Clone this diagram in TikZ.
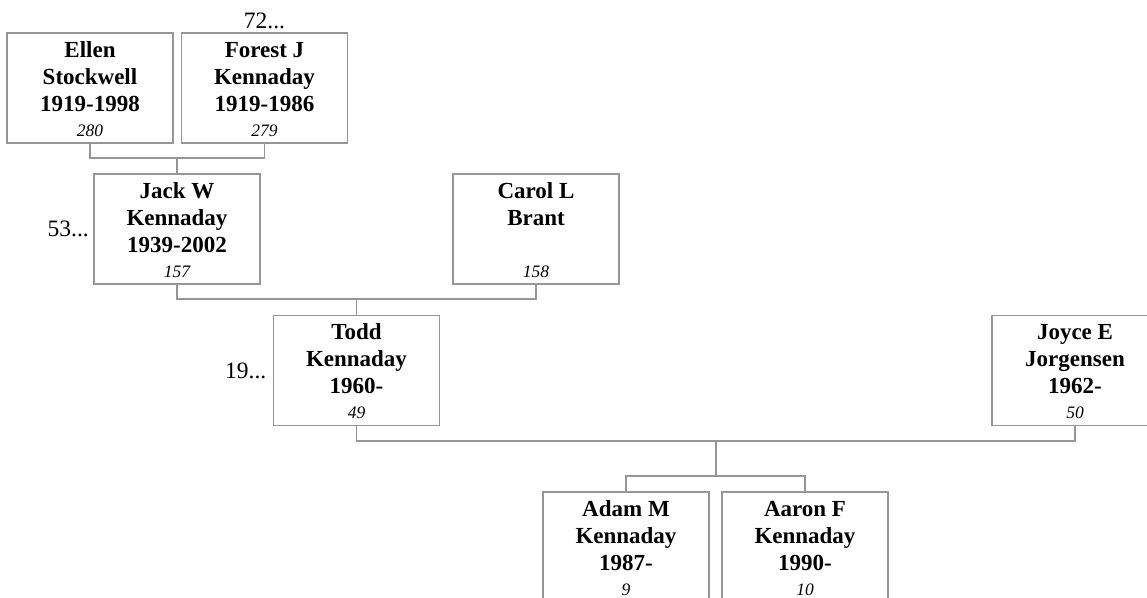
\documentclass[tikz,border=0pt]{standalone}
\usepackage{fontspec}
\setmainfont{Liberation Serif}
\definecolor{boxgray}{RGB}{150,150,150}
\newcommand\pln[1]{\hbox to 166pt{\hss\smash{#1}\hss}}
\newcommand\pcard[4]{\vbox to 110pt{\offinterlineskip\hsize=166pt
  \kern24pt\pln{\bfseries\fontsize{23}{27}\selectfont #1}%
  \kern27pt\pln{\bfseries\fontsize{23}{27}\selectfont #2}%
  \kern27pt\pln{\bfseries\fontsize{23}{27}\selectfont #3}%
  \kern25pt\pln{\itshape\fontsize{17.5}{20}\selectfont #4}%
  \vss}}
\tikzset{
  person/.style={draw=boxgray, line width=1.2pt, rectangle, inner sep=0pt, outer sep=0pt,
    minimum width=166pt, minimum height=110pt, fill=white},
  link/.style={draw=boxgray, line width=1.2pt},
  more/.style={inner sep=0pt, font=\fontsize{23.5}{26}\selectfont}
}
\begin{document}
\begin{tikzpicture}[x=1pt,y=-1pt]
\clip (0,0) rectangle (1147,597);
\fill[white] (0,0) rectangle (1147,597);
% connectors
\coordinate (c1) at (177,158);
\coordinate (c2) at (356.5,299);
\coordinate (c3) at (716,441);
\coordinate (c4) at (716,476);
% people
\node[person] (ellen)  at (90,88)    {\pcard{Ellen}{Stockwell}{1919-1998}{280}};
\node[person] (forest) at (264.5,88) {\pcard{Forest J}{Kennaday}{1919-1986}{279}};
\node[person] (jack)   at (177,229)  {\pcard{Jack W}{Kennaday}{1939-2002}{157}};
\node[person] (carol)  at (536,229)  {\pcard{Carol L}{Brant}{}{158}};
\node[person] (todd)   at (356.5,370.5) {\pcard{Todd}{Kennaday}{1960-}{49}};
\node[person] (joyce)  at (1075,370.5)  {\pcard{Joyce E}{Jorgensen}{1962-}{50}};
\node[person] (adam)   at (626,547)  {\pcard{Adam M}{Kennaday}{1987-}{9}};
\node[person] (aaron)  at (805,547)  {\pcard{Aaron F}{Kennaday}{1990-}{10}};
% lines
\draw[link] (ellen.south) |- (c1) -| (forest.south);
\draw[link] (c1) -- (jack.north);
\draw[link] (jack.south) |- (c2) -| (carol.south);
\draw[link] (c2) -- (todd.north);
\draw[link] (todd.south) |- (c3) -| (joyce.south);
\draw[link] (c3) -- (c4);
\draw[link] (adam.north) |- (c4) -| (aaron.north);
% continuation labels
\node[more, anchor=base] (m72) at ([yshift=5pt]forest.north) {72...};
\node[more, anchor=east] (m53) at ([xshift=-5pt]jack.west) {53...};
\node[more, anchor=east] (m19) at ([xshift=-7pt]todd.west) {19...};
\end{tikzpicture}
\end{document}
